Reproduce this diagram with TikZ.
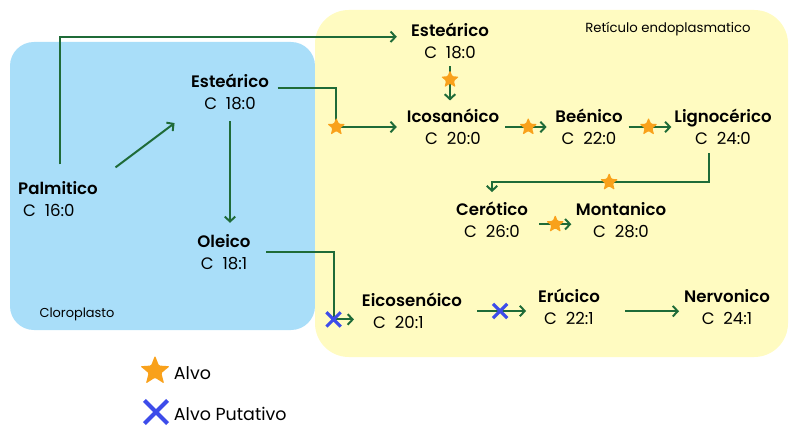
\documentclass[tikz,border=0pt]{standalone}
\usepackage{fontspec}
\setmainfont{Poppins}[BoldFont={Poppins SemiBold}]
\usetikzlibrary{arrows.meta,shapes.geometric,shapes.misc}

\definecolor{azulcloro}{HTML}{A9DEF9}
\definecolor{amarelore}{HTML}{FFFBC1}
\definecolor{verdeseta}{HTML}{1F6B38}
\definecolor{laranjaalvo}{HTML}{F9A11B}
\definecolor{azulx}{HTML}{3D4CEA}

\begin{document}
\begin{tikzpicture}[
        x=0.025cm, y=-0.025cm,
        acido/.style={align=center, inner sep=2pt, font=\fontsize{11.8}{15.6}\selectfont},
        fluxo/.style={draw=verdeseta, line width=1.4pt, -{Straight Barb[length=3.5pt,width=7.5pt]}},
        alvo/.style={star, star points=5, star point ratio=2.3, fill=laranjaalvo, draw=none,
            inner sep=0pt, minimum size=13.5pt, rounded corners=0.8pt},
        putativo/.style={cross out, -, shorten <=0pt, shorten >=0pt, draw=azulx,
            line width=2.2pt, inner sep=0pt, minimum size=8pt}
    ]
        \useasboundingbox (0,0) rectangle (800,438);

        % Cloroplasto
        \fill[azulcloro, rounded corners=17pt] (10,42) rectangle (315,330);
        \node[font=\fontsize{9.2}{10}\selectfont] (cloro) at (77,314) {Cloroplasto};

        % Retículo endoplasmatico
        \fill[amarelore, rounded corners=24pt] (315,10) rectangle (788,357);
        \node[font=\fontsize{9.4}{11}\selectfont] (reticulo) at (668,29) {Retículo endoplasmatico};

        % Ácidos graxos
        \node[acido, align=left] (palm) at (58,199) {\textbf{Palmitico}\\\hspace{3.5pt}C~~16:0};
        \node[acido] (estA) at (230,92) {\textbf{Esteárico}\\C~~18:0};
        \node[acido] (oleic) at (224,252) {\textbf{Oleico}\\C~~18:1};
        \node[acido] (estB) at (450,41) {\textbf{Esteárico}\\C~~18:0};
        \node[acido] (icos) at (453,127) {\textbf{Icosanóico}\\C~~20:0};
        \node[acido] (been) at (589,127) {\textbf{Beénico}\\C~~22:0};
        \node[acido] (lign) at (723,127) {\textbf{Lignocérico}\\C~~24:0};
        \node[acido] (cerot) at (492,220) {\textbf{Cerótico}\\C~~26:0};
        \node[acido] (mont) at (621,220) {\textbf{Montanico}\\C~~28:0};
        \node[acido, align=left] (eicos) at (412,311) {\textbf{Eicosenóico}\\\hspace{8pt}C~~20:1};
        \node[acido] (eruc) at (569,307) {\textbf{Erúcico}\\C~~22:1};
        \node[acido] (nerv) at (727,307) {\textbf{Nervonico}\\C~~24:1};

        % Setas
        \draw[fluxo, shorten <=10pt, shorten >=8pt]
            ([xshift=1.5pt]palm.north) |- ([yshift=3pt]estB.west);
        \draw[fluxo, shorten <=13pt, shorten >=12pt] (palm.north east) -- (estA.south west);
        \draw[fluxo, shorten <=4pt, shorten >=5pt]
            ([yshift=3pt]estA.east) -| ([xshift=-48pt]icos.west) node[alvo] (s1) {}
            -- (icos.west);
        \draw[fluxo, shorten <=6pt, shorten >=6pt] (estA.south) -- (estA.south |- oleic.north);
        \draw[fluxo, shorten <=3pt, shorten >=4pt]
            (estB.south) -- node[alvo, pos=0.4] (s2) {} (estB.south |- icos.north);
        \draw[fluxo, shorten <=2pt, shorten >=4pt]
            (icos.east) -- node[alvo, pos=0.52] (s3) {} (been.west);
        \draw[fluxo, shorten <=2pt, shorten >=0pt]
            (been.east) -- node[alvo, pos=0.5] (s4) {} (lign.west);
        \draw[fluxo, shorten <=4pt, shorten >=5pt]
            ([xshift=-10pt]lign.south) |- node[alvo, pos=0.73] (s5) {} ([yshift=12pt]cerot.north)
            -- (cerot.north);
        \draw[fluxo, shorten <=6pt, shorten >=1pt]
            ([yshift=-3pt]cerot.east) -- node[alvo, pos=0.58] (s6) {} ([yshift=-3pt]mont.west);
        \draw[fluxo, shorten <=9pt, shorten >=3.5pt]
            (oleic.east) -| ([xshift=-18pt, yshift=-6pt]eicos.west) node[putativo] (x1) {}
            -- ([yshift=-6pt]eicos.west);
        \draw[fluxo, shorten <=8.5pt, shorten >=6.4pt]
            (eicos.east) -- node[putativo, pos=0.5] (x2) {} (eicos.east -| eruc.west);
        \draw[fluxo, shorten <=16pt, shorten >=1.4pt]
            ([yshift=-3pt]eruc.east) -- ([yshift=-3pt]nerv.west);

        % Legenda
        \node[alvo, minimum size=22pt] (legalvo) at (155,371) {};
        \node[anchor=west, font=\fontsize{12.4}{14}\selectfont] (txtalvo) at (169,373) {Alvo};
        \node[putativo, minimum size=13.5pt, line width=3pt] (legput) at (156,412) {};
        \node[anchor=west, font=\fontsize{12.4}{14}\selectfont] (txtput) at (169,414) {Alvo Putativo};

    \end{tikzpicture}
\end{document}
